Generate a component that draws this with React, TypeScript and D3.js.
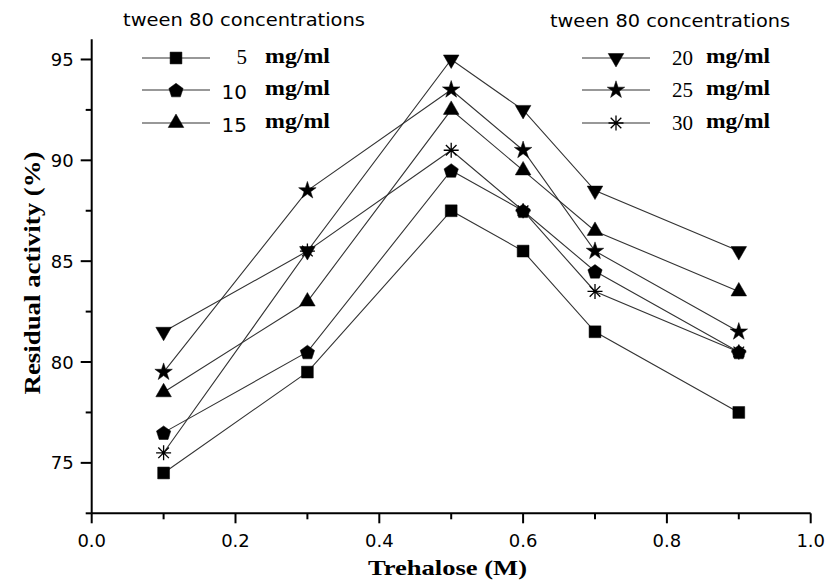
import * as d3 from "d3";

const trehalose = [0.1, 0.3, 0.5, 0.6, 0.7, 0.9];
const tween5 = [74.5, 79.5, 87.5, 85.5, 81.5, 77.5];
const tween10 = [76.5, 80.5, 89.5, 87.5, 84.5, 80.5];
const tween15 = [78.5, 83, 92.5, 89.5, 86.5, 83.5];
const tween20 = [81.5, 85.5, 95, 92.5, 88.5, 85.5];
const tween25 = [79.5, 88.5, 93.5, 90.5, 85.5, 81.5];
const tween30 = [75.5, 85.5, 90.5, 87.5, 83.5, 80.5];
const seriesNames = ["5", "10", "15", "20", "25", "30"];
const xTicks = [0, 0.2, 0.4, 0.6, 0.8, 1.0];
const yTicks = [75, 80, 85, 90, 95];

const W = 827, H = 580;
const x = d3.scaleLinear().domain([0, 1]).range([91.7, 810.7]);
const y = d3.scaleLinear().domain([72.5, 96]).range([513.3, 39.3]);

function pentagon(r: number) {
  const pts = d3.range(5).map(k => {
    const a = -Math.PI / 2 + (k * 2 * Math.PI) / 5;
    return [r * Math.cos(a), r * Math.sin(a) + 0.8];
  });
  return "M" + pts.map(p => p.join(",")).join("L") + "Z";
}

function asterisk(r: number) {
  let d = "";
  for (let k = 0; k < 4; k++) {
    const a = (k * Math.PI) / 4;
    const dx = r * Math.cos(a), dy = r * Math.sin(a);
    d += `M${-dx},${-dy}L${dx},${dy}`;
  }
  return d;
}

const square = d3.symbol(d3.symbolSquare, 140)()!;
const triUp = d3.symbol(d3.symbolTriangle, 105)()!;
const star = d3.symbol(d3.symbolStar, 95)()!;

// marker per series: path + filled or stroked + rotation
const markers = [
  { d: square, fill: true, rot: 0 },
  { d: pentagon(7.5), fill: true, rot: 0 },
  { d: triUp, fill: true, rot: 0 },
  { d: triUp, fill: true, rot: 180 },
  { d: star, fill: true, rot: 0 },
  { d: asterisk(7.5), fill: false, rot: 0 },
];

const allSeries = [tween5, tween10, tween15, tween20, tween25, tween30];

function Marker({ i, cx, cy }: { i: number; cx: number; cy: number }) {
  const m = markers[i];
  return (
    <path
      d={m.d}
      transform={`translate(${cx},${cy}) rotate(${m.rot})`}
      fill={m.fill ? "#000" : "none"}
      stroke="#000"
      strokeWidth={m.fill ? 0.5 : 1.3}
    />
  );
}

const line = d3.line<number>().x((_, i) => x(trehalose[i])).y(d => y(d));

const sans = "'DejaVu Sans', sans-serif";
const serif = "'Liberation Serif', 'Times New Roman', serif";

export default function App() {
  const minorY = d3.range(72.5, 95.1, 2.5).filter(v => !yTicks.includes(v));
  const minorX = [0.1, 0.3, 0.5, 0.7, 0.9];
  const rowsY = [58, 90, 123];

  return (
    <svg width={W} height={H} style={{ position: "absolute", left: 0, top: 0, background: "#fff" }}>
      {/* series lines */}
      {allSeries.map((s, i) => (
        <path key={"l" + i} d={line(s)!} fill="none" stroke="#333" strokeWidth={1.1} />
      ))}
      {allSeries.map((s, i) =>
        s.map((v, j) => <Marker key={`m${i}-${j}`} i={i} cx={x(trehalose[j])} cy={y(v)} />)
      )}

      {/* axes */}
      <line x1={x(0)} x2={x(0)} y1={y(96)} y2={y(72.5)} stroke="#000" strokeWidth={2} />
      <line x1={x(0)} x2={x(1)} y1={y(72.5)} y2={y(72.5)} stroke="#000" strokeWidth={2} />
      {yTicks.map(t => (
        <g key={"yt" + t}>
          <line x1={x(0) - 11} x2={x(0)} y1={y(t)} y2={y(t)} stroke="#000" strokeWidth={2} />
          <text x={x(0) - 18} y={y(t)} dy="0.36em" textAnchor="end" fontFamily={sans} fontSize={18}>
            {t}
          </text>
        </g>
      ))}
      {minorY.map(t => (
        <line key={"ym" + t} x1={x(0) - 6} x2={x(0)} y1={y(t)} y2={y(t)} stroke="#000" strokeWidth={2} />
      ))}
      {xTicks.map(t => (
        <g key={"xt" + t}>
          <line x1={x(t)} x2={x(t)} y1={y(72.5)} y2={y(72.5) + 10} stroke="#000" strokeWidth={2} />
          <text x={x(t)} y={547} textAnchor="middle" fontFamily={sans} fontSize={18}>
            {t.toFixed(1)}
          </text>
        </g>
      ))}
      {minorX.map(t => (
        <line key={"xm" + t} x1={x(t)} x2={x(t)} y1={y(72.5)} y2={y(72.5) + 6} stroke="#000" strokeWidth={2} />
      ))}

      {/* axis titles */}
      <text x={368} y={575} fontFamily={serif} fontWeight="bold" fontSize={22} textLength={159} lengthAdjust="spacingAndGlyphs">
        Trehalose (M)
      </text>
      <text
        transform="translate(40,273) rotate(-90)"
        textAnchor="middle"
        fontFamily={serif}
        fontWeight="bold"
        fontSize={24}
        textLength={243}
        lengthAdjust="spacingAndGlyphs"
      >
        Residual activity (%)
      </text>

      {/* left legend */}
      <text x={123} y={26} fontFamily={sans} fontSize={17} textLength={242} lengthAdjust="spacingAndGlyphs">
        tween 80 concentrations
      </text>
      {[0, 1, 2].map(k => (
        <g key={"lg" + k}>
          <line x1={142} x2={210} y1={rowsY[k]} y2={rowsY[k]} stroke="#333" strokeWidth={1.1} />
          <Marker i={k} cx={176} cy={rowsY[k]} />
          <text
            x={247}
            y={rowsY[k] + (k === 0 ? 6 : 9)}
            textAnchor="end"
            fontFamily={k === 0 ? serif : sans}
            fontSize={k === 0 ? 21 : 20}
          >
            {seriesNames[k]}
          </text>
          <text x={265} y={rowsY[k] + 5} fontFamily={serif} fontWeight="bold" fontSize={20} textLength={65} lengthAdjust="spacingAndGlyphs">
            mg/ml
          </text>
        </g>
      ))}

      {/* right legend */}
      <text x={550} y={27} fontFamily={sans} fontSize={17} textLength={240} lengthAdjust="spacingAndGlyphs">
        tween 80 concentrations
      </text>
      {[3, 4, 5].map((i, k) => (
        <g key={"rg" + i}>
          <line x1={582} x2={650} y1={rowsY[k]} y2={rowsY[k]} stroke="#333" strokeWidth={1.1} />
          <Marker i={i} cx={616} cy={rowsY[k]} />
          <text x={693} y={rowsY[k] + 7} textAnchor="end" fontFamily={serif} fontSize={21}>
            {seriesNames[i]}
          </text>
          <text x={706} y={rowsY[k] + 5} fontFamily={serif} fontWeight="bold" fontSize={20} textLength={64} lengthAdjust="spacingAndGlyphs">
            mg/ml
          </text>
        </g>
      ))}
    </svg>
  );
}
